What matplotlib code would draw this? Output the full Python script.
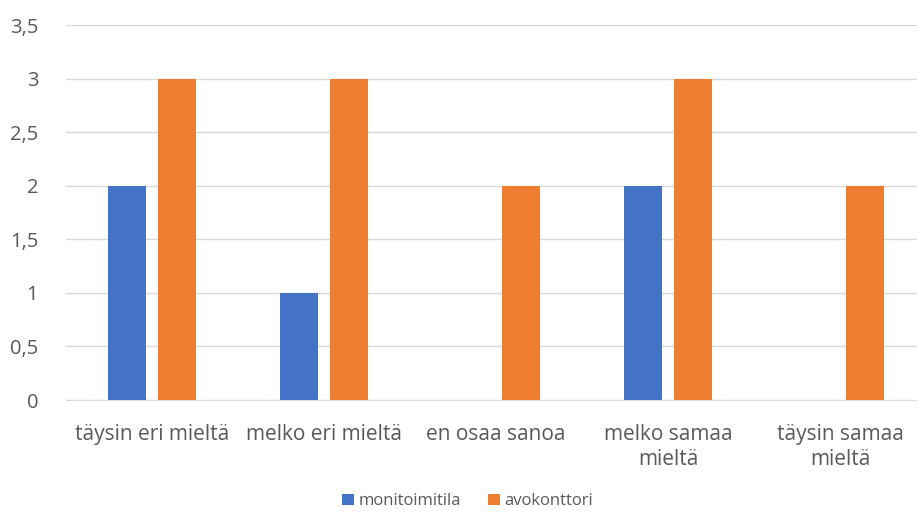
import matplotlib.pyplot as plt
import numpy as np

categories = ["täysin eri mieltä", "melko eri mieltä", "en osaa sanoa",
              "melko samaa\nmieltä", "täysin samaa\nmieltä"]
monitoimitila = [2, 1, 0, 2, 0]
avokonttori = [3, 3, 2, 3, 2]
yticks = [0, 0.5, 1, 1.5, 2, 2.5, 3, 3.5]
ytick_labels = ["0", "0,5", "1", "1,5", "2", "2,5", "3", "3,5"]

plt.rcParams['font.family'] = ['Open Sans', 'DejaVu Sans']
txt = '#595959'

fig = plt.figure(figsize=(9.17, 5.15), dpi=100)
ax = fig.add_axes([66 / 917, 1 - 400 / 515, 851 / 917, 375 / 515])

x = np.arange(len(categories))
w = 0.221
ax.bar(x - 0.145, monitoimitila, w, color='#4472C4', label='monitoimitila', zorder=3)
ax.bar(x + 0.145, avokonttori, w, color='#ED7D31', label='avokonttori', zorder=3)

ax.set_xlim(-0.5, 4.5 - 9 / 172)
ax.set_ylim(0, 3.5)
ax.set_yticks(yticks)
ax.set_yticklabels(ytick_labels, color=txt, fontsize=14.5)
ax.set_xticks(x)
ax.set_xticklabels(categories, color=txt, fontsize=15, linespacing=1.3)
ax.yaxis.grid(True, color='#D9D9D9', linewidth=1, zorder=0)
for s in ['top', 'right', 'left']:
    ax.spines[s].set_visible(False)
ax.spines['bottom'].set_color('#D9D9D9')
ax.tick_params(axis='both', length=0)
ax.tick_params(axis='y', pad=20)
ax.tick_params(axis='x', pad=17)

fig.legend(loc='lower center', bbox_to_anchor=(0.51, -0.018), ncol=2, frameon=False,
           fontsize=12, handlelength=0.7, handleheight=0.7, handletextpad=0.3,
           columnspacing=1.6, labelcolor=txt)

fig.savefig('out.png', dpi=100)
